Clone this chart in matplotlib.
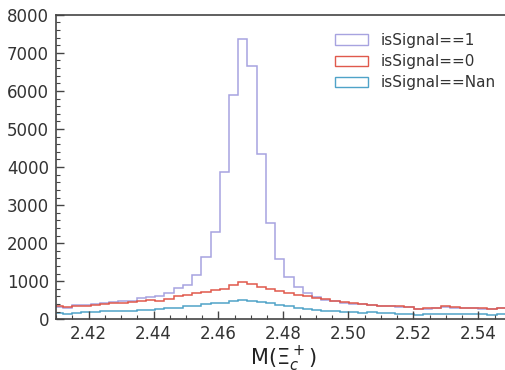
import numpy as np
import matplotlib
matplotlib.use('Agg')
import matplotlib.pyplot as plt
from matplotlib.patches import Patch
from matplotlib.ticker import MultipleLocator

# 50 equal-width mass bins
bin_lo = 2.40928
bin_hi = 2.55128
n_bins = 50

sig1 = [330, 310, 370, 380, 400, 430, 450, 470, 490, 560,
        590, 620, 680, 820, 900, 1170, 1630, 2300, 3860, 5900,
        7360, 6650, 4330, 2520, 1580, 1120, 840, 680, 580, 510,
        470, 440, 410, 390, 370, 340, 350, 330, 320, 260,
        280, 290, 330, 310, 300, 290, 280, 270, 290, 260]
sig0 = [350, 320, 360, 350, 380, 400, 430, 420, 450, 470,
        500, 490, 540, 600, 640, 680, 720, 780, 800, 900,
        980, 920, 850, 800, 740, 680, 640, 600, 560, 530,
        480, 450, 420, 400, 380, 350, 360, 340, 330, 270,
        290, 300, 340, 320, 310, 300, 290, 280, 300, 270]
signan = [160, 150, 160, 180, 190, 210, 220, 230, 230, 240,
          240, 260, 300, 310, 340, 360, 400, 420, 430, 480,
          510, 490, 460, 420, 380, 340, 300, 270, 240, 220,
          210, 200, 190, 170, 180, 170, 160, 150, 130, 110,
          140, 150, 130, 150, 150, 140, 130, 120, 130, 120]

labels = ['isSignal==1', 'isSignal==0', 'isSignal==Nan']
colors = ['#a7a3e0', '#e0594c', '#4fa3c8']

edges = np.linspace(bin_lo, bin_hi, n_bins + 1)

fig = plt.figure(figsize=(5.05, 3.70), dpi=100)
ax = fig.add_axes([0.111, 0.137, 0.9006, 0.823])

for vals, c in zip([sig1, sig0, signan], colors):
    ax.stairs(vals, edges, color=c, linewidth=1.1)

ax.set_xlim(2.41, 2.55)
ax.set_ylim(0, 8000)
ax.xaxis.set_major_locator(MultipleLocator(0.02))
ax.xaxis.set_minor_locator(MultipleLocator(0.005))
ax.yaxis.set_major_locator(MultipleLocator(1000))
ax.yaxis.set_minor_locator(MultipleLocator(200))
ax.xaxis.set_major_formatter(matplotlib.ticker.FormatStrFormatter('%.2f'))

ax.tick_params(which='both', direction='in', colors='#444444',
               labelcolor='#333333', labelsize=12)
ax.tick_params(which='major', length=6, width=1)
ax.tick_params(axis='y', which='major', pad=5)
ax.tick_params(axis='x', which='major', pad=4)
ax.tick_params(which='minor', length=3, width=0.8)
for s in ax.spines.values():
    s.set_color('#444444')
    s.set_linewidth(1.2)

ax.set_xlabel(r'M($\Xi_c^+$)', fontsize=15, color='#222222', labelpad=1)

handles = [Patch(facecolor='white', edgecolor=c, linewidth=1.0) for c in colors]
ax.legend(handles, labels, loc='upper right', bbox_to_anchor=(0.99, 0.975),
          frameon=False, fontsize=11, handlelength=2.2, handleheight=0.7,
          labelspacing=0.4, labelcolor='#333333', borderaxespad=0.3)

fig.savefig('out.png', dpi=100)
